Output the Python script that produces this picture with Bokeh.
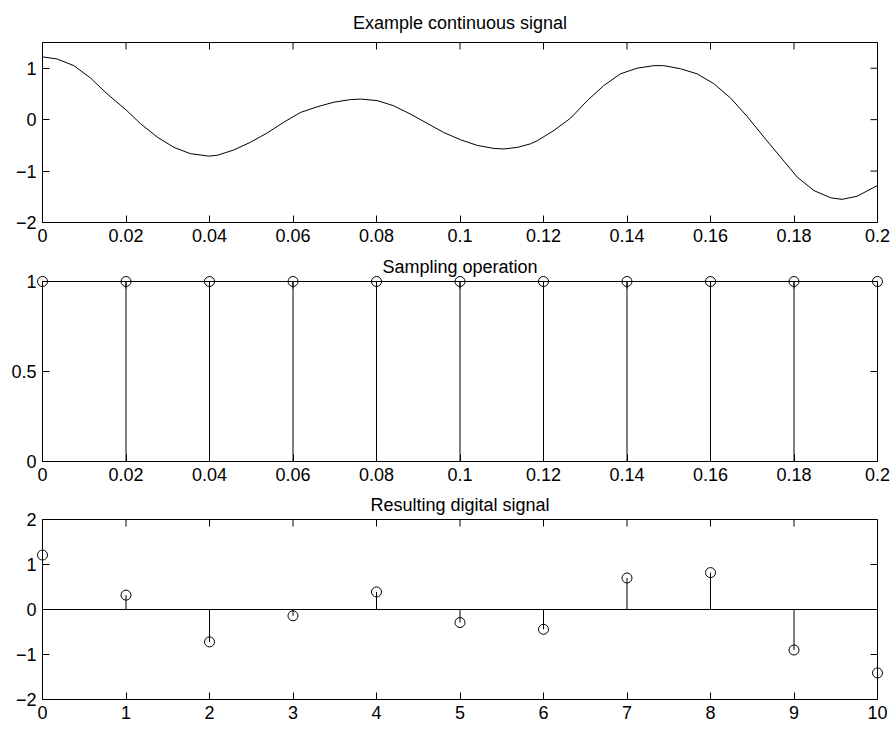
import math
from bokeh.plotting import figure
from bokeh.models import Range1d, LinearAxis, FixedTicker, Span
from bokeh.layouts import column
from bokeh.embed import file_html
from bokeh.resources import INLINE

# ---------------- data ----------------
cont_t = [0.0000, 0.0035, 0.0075, 0.0115, 0.0155, 0.0200, 0.0235, 0.0275, 0.0315, 0.0354,
          0.0398, 0.0420, 0.0458, 0.0498, 0.0538, 0.0578, 0.0618, 0.0658, 0.0698, 0.0738,
          0.0762, 0.0802, 0.0841, 0.0881, 0.0921, 0.0961, 0.1001, 0.1041, 0.1081, 0.1105,
          0.1137, 0.1169, 0.1185, 0.1225, 0.1265, 0.1305, 0.1344, 0.1384, 0.1424, 0.1464,
          0.1488, 0.1528, 0.1568, 0.1608, 0.1648, 0.1688, 0.1728, 0.1768, 0.1808, 0.1848,
          0.1888, 0.1915, 0.1951, 0.2000]
cont_v = [1.22, 1.18, 1.05, 0.81, 0.50, 0.19, -0.08, -0.34, -0.54, -0.66,
          -0.71, -0.69, -0.59, -0.44, -0.26, -0.05, 0.14, 0.25, 0.34, 0.39,
          0.40, 0.37, 0.27, 0.11, -0.07, -0.25, -0.39, -0.50, -0.56, -0.57,
          -0.54, -0.47, -0.41, -0.21, 0.03, 0.37, 0.66, 0.89, 1.00, 1.05,
          1.05, 0.99, 0.89, 0.70, 0.42, 0.06, -0.34, -0.73, -1.12, -1.38,
          -1.52, -1.55, -1.49, -1.28]

samp_t = [0.00, 0.02, 0.04, 0.06, 0.08, 0.10, 0.12, 0.14, 0.16, 0.18, 0.20]
samp_v = [1, 1, 1, 1, 1, 1, 1, 1, 1, 1, 1]

dig_n = [0, 1, 2, 3, 4, 5, 6, 7, 8, 9, 10]
dig_v = [1.21, 0.32, -0.72, -0.14, 0.39, -0.29, -0.44, 0.70, 0.82, -0.90, -1.41]

titles = ["Example continuous signal", "Sampling operation", "Resulting digital signal"]

time_ticks = [0.0, 0.02, 0.04, 0.06, 0.08, 0.1, 0.12, 0.14, 0.16, 0.18, 0.2]
time_labels = ["0", "0.02", "0.04", "0.06", "0.08", "0.1", "0.12", "0.14", "0.16", "0.18", "0.2"]
y1_ticks = [-2, -1, 0, 1]
y1_labels = ["\u22122", "\u22121", "0", "1"]
y2_ticks = [0, 0.5, 1]
y2_labels = ["0", "0.5", "1"]
n_ticks = [0, 1, 2, 3, 4, 5, 6, 7, 8, 9, 10]
n_labels = ["0", "1", "2", "3", "4", "5", "6", "7", "8", "9", "10"]
y3_ticks = [-2, -1, 0, 1, 2]
y3_labels = ["\u22122", "\u22121", "0", "1", "2"]

FONT = "Liberation Sans"
FS = "18px"
TICK = 7


def make_panel(title, xr, yr, xt, xl, yt, yl, height, top, bottom, title_standoff):
    p = figure(width=894, height=height, output_backend="svg", toolbar_location=None,
               x_range=Range1d(*xr), y_range=Range1d(*yr),
               min_border_left=42, min_border_right=17,
               min_border_top=top, min_border_bottom=bottom,
               x_axis_type=None, y_axis_type=None)
    p.title.text = title
    p.title.align = "center"
    p.title.text_font = FONT
    p.title.text_font_size = FS
    p.title.text_font_style = "normal"
    p.title.text_color = "black"
    p.title.standoff = title_standoff
    p.xgrid.visible = False
    p.ygrid.visible = False
    p.outline_line_color = "black"
    p.outline_line_width = 1
    p.background_fill_color = "white"
    p.border_fill_color = "white"

    for side, ticks, labels in (("below", xt, xl), ("left", yt, yl)):
        ax = LinearAxis(ticker=FixedTicker(ticks=ticks))
        ax.axis_line_color = "black"
        ax.major_tick_line_color = "black"
        ax.major_tick_in = TICK
        ax.major_tick_out = 0
        ax.minor_tick_line_color = None
        ax.major_label_overrides = {t: l for t, l in zip(ticks, labels)}
        ax.major_label_text_font = FONT
        ax.major_label_text_font_size = FS
        ax.major_label_text_color = "black"
        ax.major_label_standoff = 6
        p.add_layout(ax, side)

    # mirrored inward ticks on the top and right edges (half of each dash is clipped by the frame)
    p.scatter(x=xt, y=[yr[1]] * len(xt), marker="dash", size=2 * TICK, angle=math.pi / 2,
              line_color="black", line_width=1)
    p.scatter(x=[xr[1]] * len(yt), y=yt, marker="dash", size=2 * TICK,
              line_color="black", line_width=1)
    return p


p1 = make_panel(titles[0], (0, 0.2), (-2, 1.5), time_ticks, time_labels,
                y1_ticks, y1_labels, 249, 42, 27, 20)
p1.line(cont_t, cont_v, line_color="black", line_width=1)

p2 = make_panel(titles[1], (0, 0.2), (0, 1), time_ticks, time_labels,
                y2_ticks, y2_labels, 239, 32, 27, 10)
p2.segment(x0=samp_t, y0=[0] * len(samp_t), x1=samp_t, y1=samp_v,
           line_color="black", line_width=1)
p2.scatter(samp_t, samp_v, marker="circle", size=10, fill_color=None,
           line_color="black", line_width=1, level="overlay")

p3 = make_panel(titles[2], (0, 10), (-2, 2), n_ticks, n_labels,
                y3_ticks, y3_labels, 241, 31, 30, 9)
p3.add_layout(Span(location=0, dimension="width", line_color="black", line_width=1))
p3.segment(x0=dig_n, y0=[0] * len(dig_n), x1=dig_n, y1=dig_v,
           line_color="black", line_width=1)
p3.scatter(dig_n, dig_v, marker="circle", size=10, fill_color=None,
           line_color="black", line_width=1, level="overlay")

layout = column(p1, p2, p3, spacing=0)
open("out.html", "w").write(file_html(layout, INLINE))
